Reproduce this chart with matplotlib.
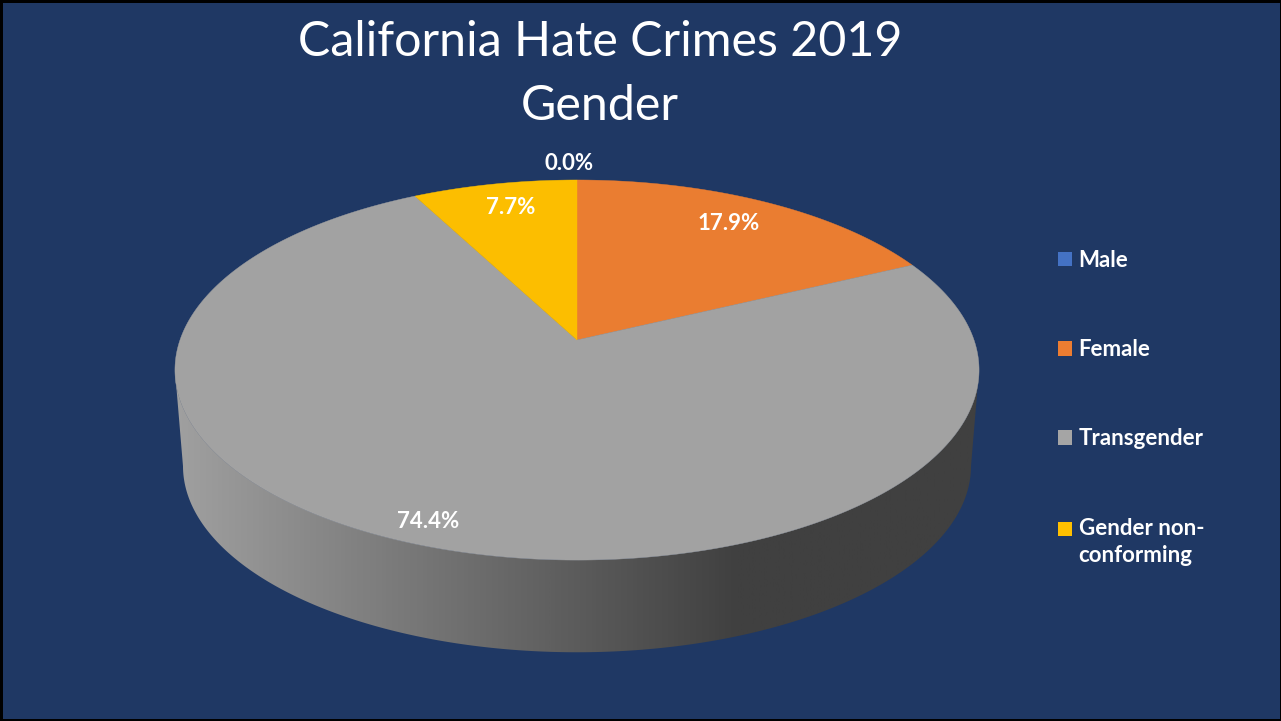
import numpy as np
import matplotlib
matplotlib.use("Agg")
import matplotlib.pyplot as plt
from matplotlib.patches import Patch, Polygon, Rectangle
from matplotlib.colors import LinearSegmentedColormap

plt.rcParams['font.family'] = ['Lato', 'DejaVu Sans']

categories = ['Male', 'Female', 'Transgender', 'Gender non-\nconforming']
shares = [0.0, 17.9, 74.4, 7.7]
slice_colors = ['#4472c4', '#ea7d31', '#a2a2a2', '#fcbe00']
legend_colors = ['#4472c4', '#ed7d31', '#a5a5a5', '#ffc000']
share_labels = ['0.0%', '17.9%', '74.4%', '7.7%']
label_xy = [(569, 164), (729, 224), (428, 522), (511, 207)]
title = 'California Hate Crimes 2019\nGender'

NAVY = '#1f3864'
APEX_X, APEX_Y = 577.0, 340.0
RX, RY, K = 397.0, 185.3, 0.158
BASE_SCALE, BASE_APEX_Y = 0.98, 436.6


def project(frac, scale=1.0, apex_y=APEX_Y):
    """Fraction of the full turn (clockwise from the top) to picture coordinates."""
    a = 2 * np.pi * np.asarray(frac)
    u, v = np.sin(a), np.cos(a)
    d = 1 + K * v
    return APEX_X + scale * RX * u / d, apex_y - scale * RY * v / d


fig = plt.figure(figsize=(12.81, 7.21), dpi=100, facecolor='black')
ax = fig.add_axes([0, 0, 1, 1])
ax.set_axis_off()
ax.add_patch(Rectangle((3, 3), 1276.5, 716, fc=NAVY, ec='none', zorder=0))

# Side wall of the disc: front half of top rim joined to front half of base rim
tfull = np.linspace(0, 1, 720)
fx, fy = project(tfull)
t_rim = np.linspace(tfull[np.argmax(fx)], tfull[np.argmin(fx)], 300)
bx, by = project(tfull, BASE_SCALE, BASE_APEX_Y)
t_base = np.linspace(tfull[np.argmin(bx)], tfull[np.argmax(bx)], 300)
rx_, ry_ = project(t_rim)
bx_, by_ = project(t_base, BASE_SCALE, BASE_APEX_Y)
wall = Polygon(np.column_stack([np.r_[rx_, bx_], np.r_[ry_, by_]]), closed=True,
               fc='none', ec='none')
ax.add_patch(wall)
side_cmap = LinearSegmentedColormap.from_list(
    'side', [(0.0, '#a0a0a0'), (0.70, '#404040'), (1.0, '#404040')])
grad = np.linspace(0, 1, 1024).reshape(1, -1)
im = ax.imshow(grad, cmap=side_cmap, extent=(175, 979, 700, 300), aspect='auto', zorder=1)
im.set_clip_path(wall)

# Top faces of the slices
cum = np.cumsum([0.0] + shares) / 100.0
for s, e, c in zip(cum[:-1], cum[1:], slice_colors):
    if e - s <= 0:
        continue
    arc = np.linspace(s, e, max(int((e - s) * 720), 8))
    ax_, ay_ = project(arc)
    ax.fill(np.r_[APEX_X, ax_], np.r_[APEX_Y, ay_], fc=c, ec=c, lw=0.3, zorder=2)

for (x, y), txt in zip(label_xy, share_labels):
    ax.text(x, y, txt, color='white', fontsize=16, fontweight='bold',
            ha='center', va='center', zorder=3)

fig.suptitle(title, x=600 / 1281, y=1 - 20 / 721, va='top', ha='center',
             color='white', fontsize=34.8, linespacing=1.55)

handles = [Patch(fc=c, ec='none') for c in legend_colors]
leg = ax.legend(handles, categories, loc='upper left', bbox_to_anchor=(1058 / 1281, 1 - 250 / 721),
                frameon=False, labelspacing=3.07, handlelength=0.63,
                handleheight=0.63, handletextpad=0.3, borderpad=0, borderaxespad=0,
                labelcolor='white', prop={'weight': 'bold', 'size': 16})
for t in leg.get_texts():
    t.set_linespacing(1.4)
h = leg.legend_handles[3]
h.set_y(h.get_y() + 10)

ax.set_xlim(0, 1281)
ax.set_ylim(721, 0)
fig.savefig('out.png', dpi=100, facecolor='black')
